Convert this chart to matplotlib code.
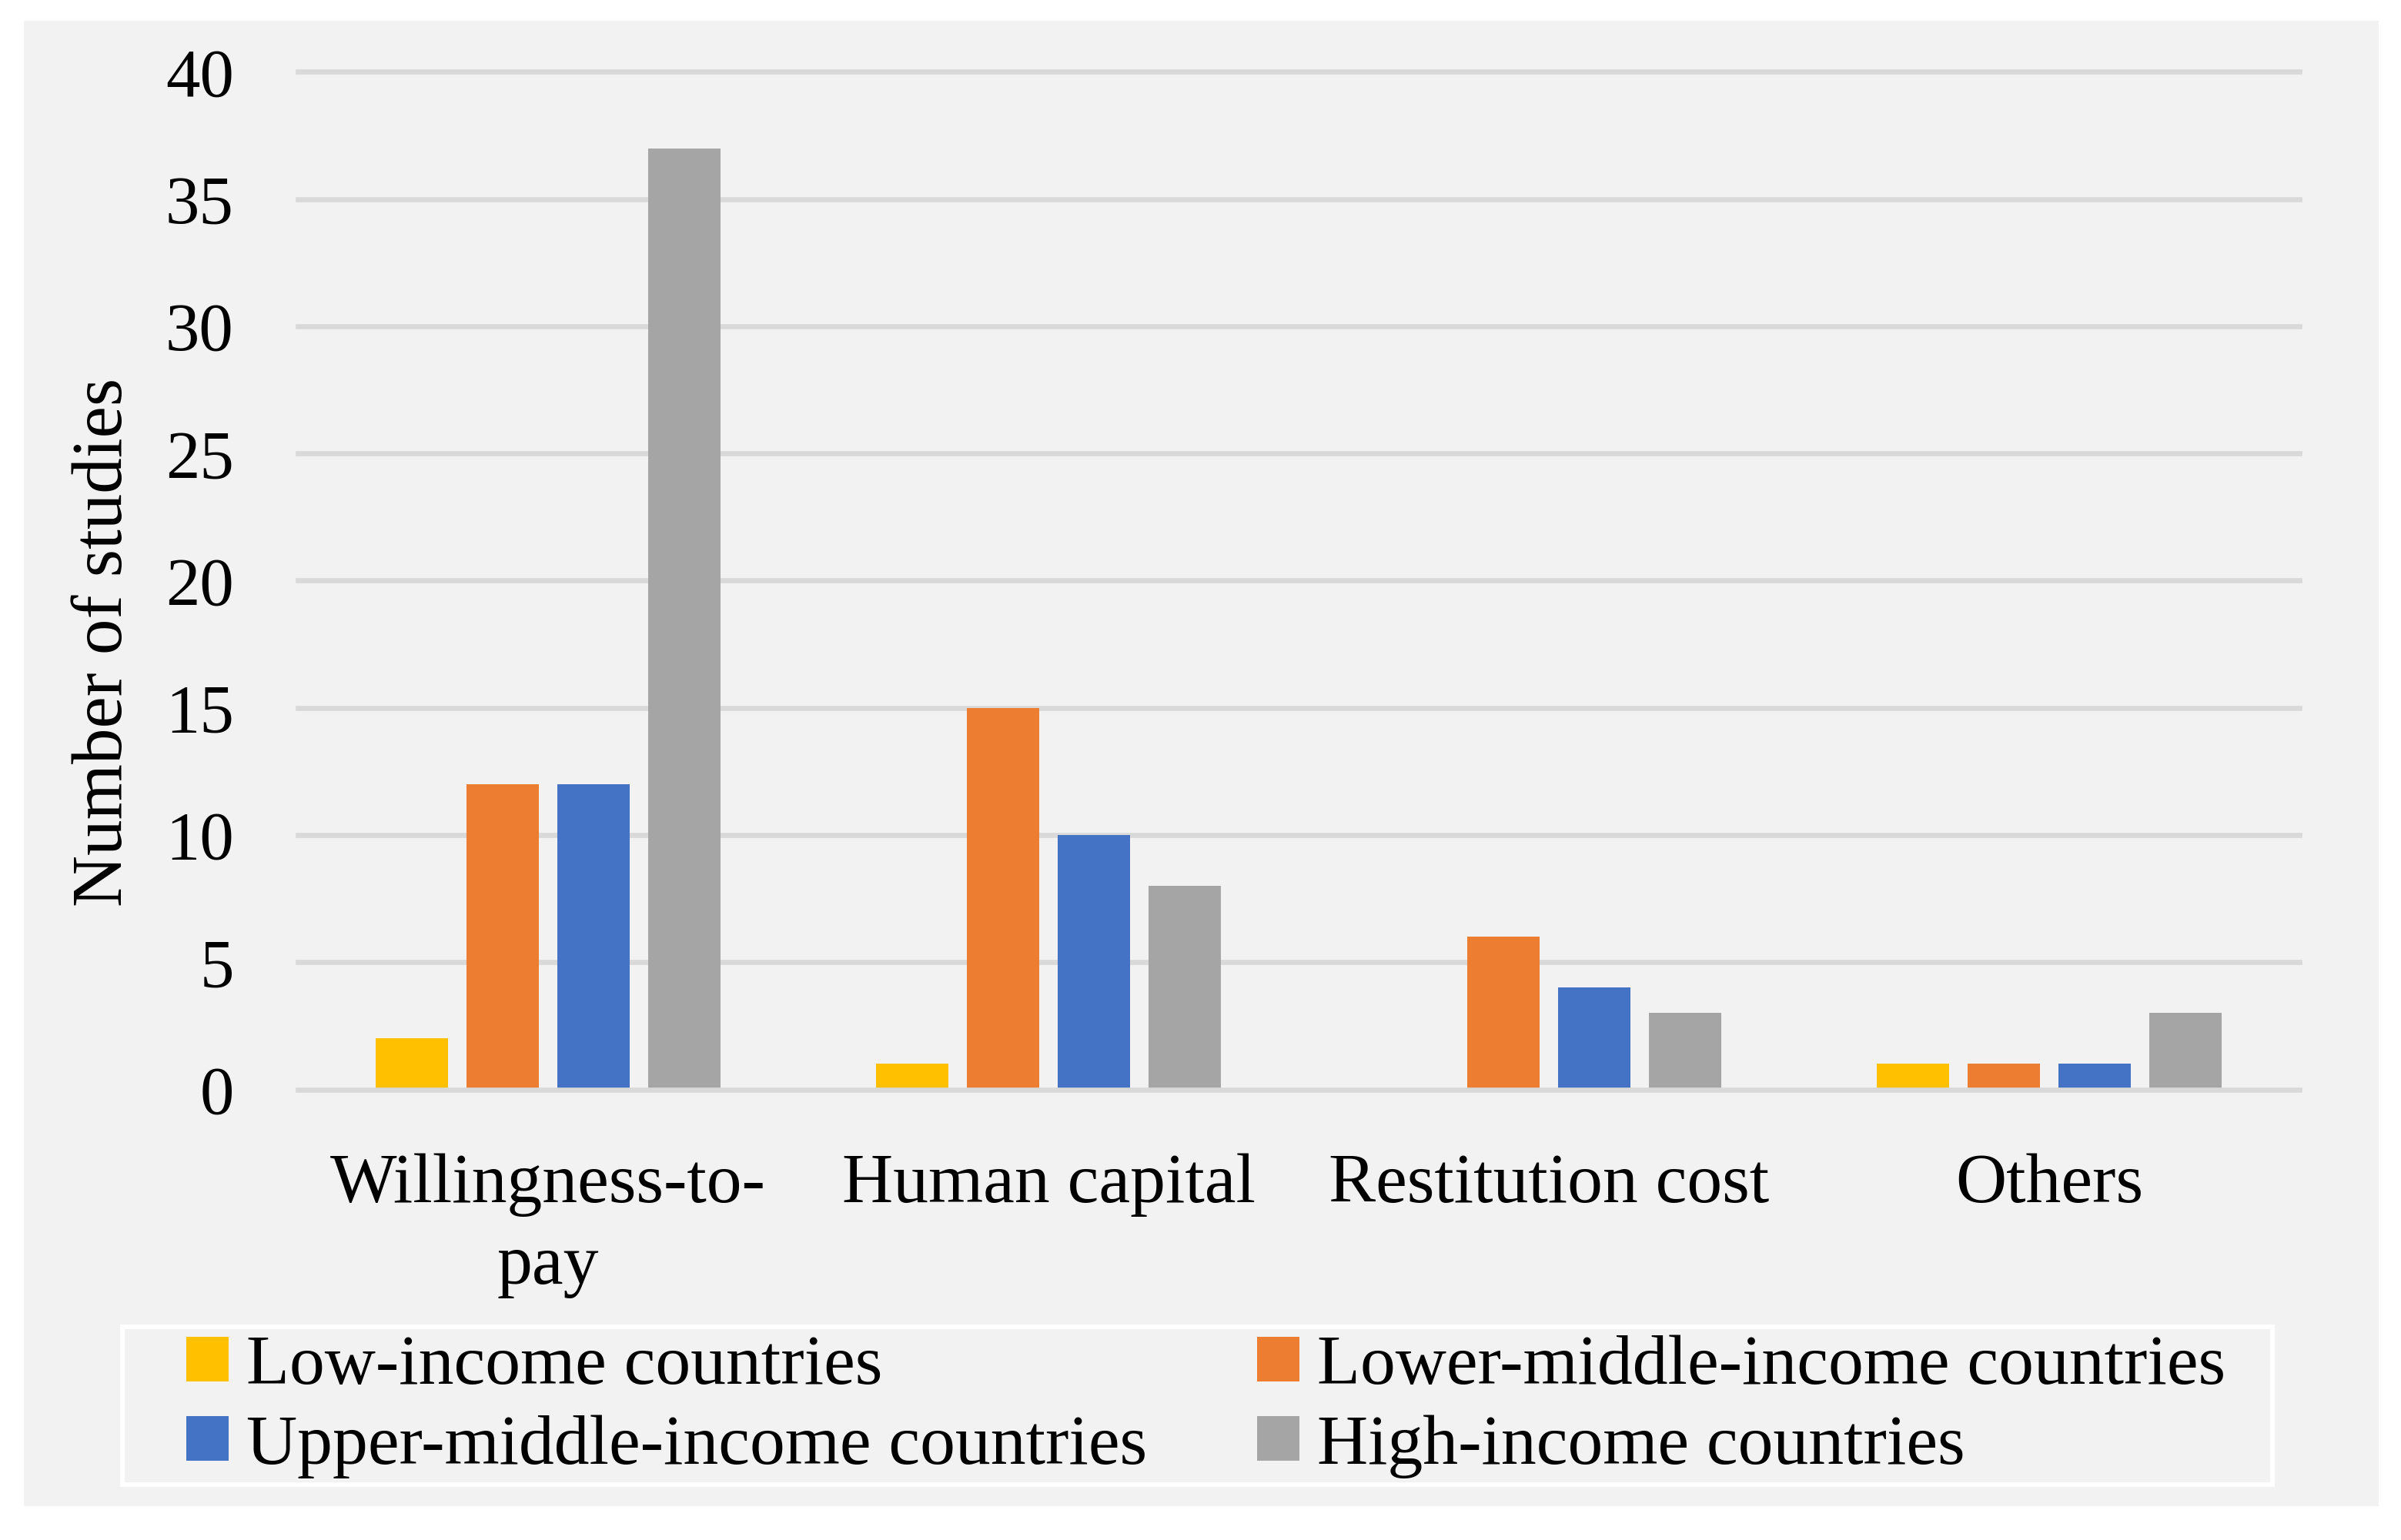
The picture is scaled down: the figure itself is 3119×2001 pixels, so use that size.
import matplotlib
matplotlib.use("Agg")
import matplotlib.pyplot as plt
from matplotlib.patches import Rectangle
import numpy as np

categories = ["Willingness-to-\npay", "Human capital", "Restitution cost", "Others"]
series_names = ["Low-income countries", "Lower-middle-income countries",
                "Upper-middle-income countries", "High-income countries"]
low_income = [2, 1, 0, 1]
lower_middle = [12, 15, 6, 1]
upper_middle = [12, 10, 4, 1]
high_income = [37, 8, 3, 3]
colors = ["#FFC000", "#ED7D31", "#4472C4", "#A5A5A5"]
yticks = [0, 5, 10, 15, 20, 25, 30, 35, 40]

plt.rcParams['font.family'] = ['Liberation Serif', 'DejaVu Serif']
FS = 64
XFS = 66
LFS = 66

W, H = 3119, 2001
fig = plt.figure(figsize=(W / 100, H / 100), dpi=100, facecolor="white")
fig.patches.append(Rectangle((31 / W, 1 - 1957 / H), (3090 - 31) / W, (1957 - 27) / H,
                             transform=fig.transFigure, facecolor="#F2F2F2",
                             edgecolor="none", zorder=-10))
# legend frame
fig.patches.append(Rectangle((159 / W, 1 - 1929 / H), (2952 - 159) / W, (1929 - 1724) / H,
                             transform=fig.transFigure, facecolor="#F2F2F2",
                             edgecolor="white", linewidth=4.3, zorder=-5))

ax = fig.add_axes([387 / W, 1 - 1415.5 / H, 2600 / W, (1415.5 - 93.5) / H])
ax.set_facecolor("none")
ax.set_zorder(1)

x = np.arange(len(categories))
pitch = 0.1815
bw = 0.1446
all_series = [low_income, lower_middle, upper_middle, high_income]
handles = []
for i, (vals, name, c) in enumerate(zip(all_series, series_names, colors)):
    b = ax.bar(x + (i - 1.5) * pitch, vals, width=bw, color=c, label=name, zorder=2)
    handles.append(b)

ax.set_xlim(-0.5, len(categories) - 0.5)
ax.set_ylim(0, 40)
ax.set_yticks(yticks)
ax.set_xticks(x)
ax.set_xticklabels(categories, fontsize=XFS, linespacing=1.36)
ax.tick_params(axis='y', labelsize=FS, length=0, pad=60)
ax.tick_params(axis='x', length=0, pad=60)
for s in ax.spines.values():
    s.set_visible(False)

for yv in yticks:
    ax.axhline(yv, color="#D9D9D9", linewidth=4.8, zorder=1 if yv else 3, clip_on=False)

fig.text(136 / W, 1 - 834 / H, "Number of studies", rotation=90, fontsize=67,
         ha="center", va="center")

order = [0, 2, 1, 3]
leg = fig.legend([handles[k] for k in order], [series_names[k] for k in order],
                 loc="center left", bbox_to_anchor=(242 / W, 1 - 1827.5 / H),
                 ncol=2, fontsize=LFS, frameon=False,
                 handlelength=0.6, handleheight=0.6, handletextpad=0.25,
                 columnspacing=1.56, labelspacing=0.23, borderpad=0,
                 borderaxespad=0)

fig.savefig("out.png", dpi=100, facecolor="white")
